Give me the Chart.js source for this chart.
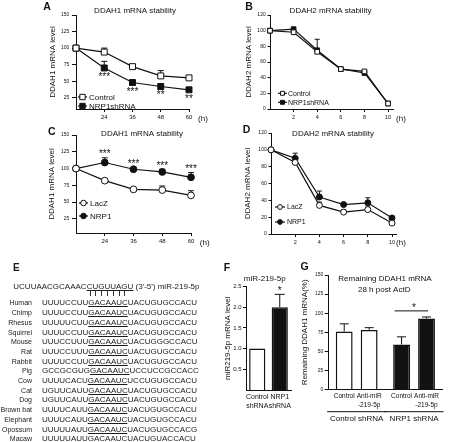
<!DOCTYPE html>
<html>
<head>
<meta charset="utf-8">
<script src="https://cdn.jsdelivr.net/npm/chart.js@4.4.1/dist/chart.umd.min.js"></script>
<style>
  html, body { margin: 0; padding: 0; background: #fff; }
  #fig { position: relative; width: 455px; height: 442px; overflow: hidden;
         font-family: 'Liberation Sans', Arial, sans-serif; color: #111; }
  #fig canvas { position: absolute; }
  #panelE { position: absolute; left: 0; top: 0; width: 220px; height: 442px; color: #1a1a1a;
            filter: grayscale(100%); will-change: transform; }
  .row { position: absolute; height: 9.7px; line-height: 9.7px; white-space: nowrap; }
  .sp { font-size: 7px; text-align: right; width: 32px; left: 0; }
  .seq { font-size: 8px; left: 42px; }
  .u { text-decoration: underline; text-decoration-thickness: 1px; text-underline-offset: 1px; }
  .pairs span { position: relative; color: transparent; }
  .pairs span.b::after { content: ''; position: absolute; left: 50%; top: 8px; width: 1px; height: 6px; background: #333; }
  .letter { position: absolute; font-weight: bold; font-size: 10px; line-height: 10px; }
</style>
</head>
<body>
<div id="fig">
  <canvas id="cA" width="225" height="125" style="left:0;top:0"></canvas>
  <canvas id="cB" width="230" height="125" style="left:225px;top:0"></canvas>
  <canvas id="cC" width="225" height="125" style="left:0;top:125px"></canvas>
  <canvas id="cD" width="230" height="125" style="left:225px;top:125px"></canvas>
  <canvas id="cF" width="80" height="187" style="left:220px;top:255px"></canvas>
  <canvas id="cG" width="155" height="187" style="left:300px;top:255px"></canvas>
  <div id="panelE"></div>
</div>
<script>
// ---- A / C : DDAH1 decay, 0-60 h ----
const hoursLong = ['0', '24', '36', '48', '60'];
const ddah1Control = [100, 94, 72, 58, 55];
const ddah1ControlErr = [null, 100, null, 66, null];
const ddah1Nrp1sh = [100, 70, 48, 42, 37];
const ddah1Nrp1shErr = [null, 80, null, null, null];
const ddah1Nrp1shStars = ['', '***', '***', '**', '**'];

const ddah1LacZ = [100, 82, 69, 68, 60];
const ddah1LacZErr = [null, null, null, 74, 67];
const ddah1Nrp1 = [100, 109, 99, 95, 87];
const ddah1Nrp1Err = [null, 116, 101, 99, 94];
const ddah1Nrp1Stars = ['', '***', '***', '***', '***'];

// ---- B / D : DDAH2 decay, 0-10 h ----
const hoursShort = [0, 2, 4, 6, 8, 10];
const ddah2Control = [100, 98, 73, 51, 48, 7];
const ddah2Nrp1sh = [100, 102, 75, 51, 46, 7];
const ddah2Nrp1shErr = [null, null, 89, null, null, null];
const ddah2LacZ = [100, 85, 34, 26, 29, 13];
const ddah2LacZErr = [null, null, 38, 29, 32, null];
const ddah2Nrp1 = [100, 90, 44, 35, 37, 19];
const ddah2Nrp1Err = [null, 96, 51, null, 43, 21];

// ---- F : miR-219-5p level ----
const mirGroups = [['Control', 'shRNA'], ['NRP1', 'shRNA']];
const mirLevel = [1.0, 2.0];
const mirErr = [null, 2.31];
const mirStars = ['', '*'];

// ---- G : remaining DDAH1 mRNA 28 h post ActD ----
const remainGroups = ['Control shRNA', 'NRP1 shRNA'];
const remainControl = [76, 59];
const remainControlErr = [86, 69];
const remainAnti = [78, 93];
const remainAntiErr = [81, 95];
const remainSig = { group: 1, value: 103, text: '*' };

// ---- tick values ----
const ticksDdah1 = [25, 50, 75, 100, 125, 150];
const ticksDdah2 = [0, 20, 40, 60, 80, 100, 120];
const ticksHours = [2, 4, 6, 8, 10];
const ticksMir = [0.5, 1.0, 1.5, 2.0, 2.5];
const ticksRemain = [0, 25, 50, 75, 100, 125, 150];

// ---- E : seed alignment ----
const mirSeq = ['UCUUAACGCAAAC', 'CUGUUAGU', " (3'-5') miR-219-5p"];
const species = ['Human', 'Chimp', 'Rhesus', 'Squirrel', 'Mouse', 'Rat', 'Rabbit', 'Pig',
                 'Cow', 'Cat', 'Dog', 'Brown bat', 'Elephant', 'Opossum', 'Macaw'];
const utrSeqs = [
  'UUUUCCUUGACAAUCUACUGUGCCACU', 'UUUUCCUUGACAAUCUACUGUGCCACU', 'UUUUUCUUGACAAUCUACUGUGCCACU',
  'UUUUCCUUGACAAUCUACUGUGCCACU', 'UUUCCUUUGACAAUCUACUGGGCCACU', 'UUUCCUUUGACAAUCUACUGUGCCACU',
  'UUUUCCUUGACAAUCUACUGUGCCACU', 'GCCGCGUGGACAAUCUCCUCCGCCACC', 'UUUUCACUGACAAUCUCCUGUGCCACU',
  'UGUUCAUUGACAAUCUACUGUGCCACU', 'UGUUCAUUGACAAUCUACUGUGCCACU', 'UUUUCAUUGACAAUCUACUGUGCCACU',
  'UUUUCAUUGACAAUCUACUGUGCCACU', 'UUUUUAUUGACAAUCUACUGUGCCACG', 'UUUUUAUUGACAAUCUACUGUACCACU'
];
const seedSite = 'GACAAUC';

const INK = '#111';
const FAMILY = "'Liberation Sans', Arial, sans-serif";

Chart.defaults.font.family = FAMILY;
Chart.defaults.color = INK;
Chart.defaults.animation = false;
Chart.defaults.responsive = false;
Chart.defaults.plugins.legend.display = false;
Chart.defaults.plugins.tooltip.enabled = false;

function drawMarker(ctx, style, x, y, r, fill) {
    ctx.beginPath();
    if (style === 'rect') {
        const s = r * Math.SQRT1_2;
        ctx.rect(x - s, y - s, 2 * s, 2 * s);
    } else {
        ctx.arc(x, y, r, 0, Math.PI * 2);
    }
    ctx.fillStyle = fill;
    ctx.fill();
    ctx.lineWidth = 1;
    ctx.strokeStyle = INK;
    ctx.stroke();
}

function drawErrors(chart, o) {
    const ctx = chart.ctx, ys = chart.scales.y;
    chart.data.datasets.forEach((ds, i) => {
        if (!ds.errors) return;
        const meta = chart.getDatasetMeta(i);
        ds.errors.forEach((e, j) => {
            if (e == null) return;
            const p = meta.data[j];
            const top = ys.getPixelForValue(e);
            ctx.save();
            ctx.strokeStyle = INK;
            ctx.lineWidth = o.width || 1;
            ctx.beginPath();
            ctx.moveTo(p.x, p.y);
            ctx.lineTo(p.x, top);
            ctx.moveTo(p.x - o.cap, top);
            ctx.lineTo(p.x + o.cap, top);
            ctx.stroke();
            ctx.restore();
        });
    });
}

function drawStars(chart, o) {
    const ctx = chart.ctx, ys = chart.scales.y;
    const size = o.starSize || 10, gap = o.starGap || 6.3;
    chart.data.datasets.forEach((ds, i) => {
        if (!ds.stars) return;
        const meta = chart.getDatasetMeta(i);
        ds.stars.forEach((s, j) => {
            if (!s) return;
            const p = meta.data[j];
            let cy;
            if (ds.starSide === 'below') {
                cy = p.y + gap;
            } else {
                const e = ds.errors && ds.errors[j] != null ? ys.getPixelForValue(ds.errors[j]) : p.y;
                cy = Math.min(p.y, e) - gap;
            }
            ctx.save();
            ctx.fillStyle = INK;
            ctx.font = size + 'px ' + FAMILY;
            ctx.textAlign = 'center';
            ctx.textBaseline = 'alphabetic';
            ctx.fillText(s, p.x, cy + size * 0.57);
            ctx.restore();
        });
    });
}

const errorBars = {
    id: 'errorBars',
    beforeDatasetsDraw(chart, args, o) { if (o.cap && o.behind) drawErrors(chart, o); },
    afterDatasetsDraw(chart, args, o) {
        if (!o.cap) return;
        if (!o.behind) drawErrors(chart, o);
        drawStars(chart, o);
    }
};

const lineLegend = {
    id: 'lineLegend',
    afterDraw(chart, args, o) {
        if (!o.rows) return;
        const ctx = chart.ctx;
        chart.data.datasets.forEach((ds, i) => {
            const y = o.rows[i];
            ctx.save();
            ctx.strokeStyle = INK;
            ctx.lineWidth = 1.2;
            ctx.beginPath();
            ctx.moveTo(o.x0, y);
            ctx.lineTo(o.x1, y);
            ctx.stroke();
            drawMarker(ctx, ds.pointStyle, (o.x0 + o.x1) / 2, y, o.radius, ds.pointBackgroundColor);
            ctx.fillStyle = INK;
            ctx.font = o.size + 'px ' + FAMILY;
            ctx.textAlign = 'left';
            ctx.textBaseline = 'middle';
            ctx.fillText(ds.label, o.tx, y + 0.5);
            ctx.restore();
        });
    }
};

const panelText = {
    id: 'panelText',
    afterDraw(chart, args, o) {
        if (!o.items) return;
        const ctx = chart.ctx;
        o.items.forEach(it => {
            ctx.save();
            ctx.fillStyle = INK;
            ctx.font = (it.bold ? 'bold ' : '') + it.size + 'px ' + FAMILY;
            ctx.textAlign = it.align || 'center';
            ctx.textBaseline = 'middle';
            ctx.fillText(it.t, it.x, it.y);
            ctx.restore();
        });
    }
};

// sub-labels under each bar, group underlines and significance bar (panel G)
const barGroups = {
    id: 'barGroups',
    afterDraw(chart, args, o) {
        if (!o.rows) return;
        const ctx = chart.ctx, xs = chart.scales.x, ys = chart.scales.y;
        ctx.save();
        ctx.fillStyle = INK;
        ctx.strokeStyle = INK;
        ctx.lineWidth = 1;
        ctx.font = o.size + 'px ' + FAMILY;
        ctx.textAlign = 'center';
        ctx.textBaseline = 'middle';
        chart.data.datasets.forEach((ds, i) => {
            chart.getDatasetMeta(i).data.forEach(bar => {
                ds.treat.forEach((line, k) => ctx.fillText(line, bar.x, o.rows[k]));
            });
        });
        chart.data.labels.forEach((l, j) => {
            const cx = xs.getPixelForValue(j);
            ctx.beginPath();
            ctx.moveTo(cx - o.half, o.lineY);
            ctx.lineTo(cx + o.half, o.lineY);
            ctx.stroke();
        });
        const sig = o.sig;
        const b0 = chart.getDatasetMeta(0).data[sig.group];
        const b1 = chart.getDatasetMeta(1).data[sig.group];
        const sy = ys.getPixelForValue(sig.value);
        ctx.beginPath();
        ctx.moveTo(b0.x - 7, sy);
        ctx.lineTo(b1.x + 1.5, sy);
        ctx.stroke();
        ctx.font = '10px ' + FAMILY;
        ctx.textBaseline = 'alphabetic';
        ctx.fillText(sig.text, (b0.x + b1.x) / 2, sy - 5.4 + 5.7);
        ctx.restore();
    }
};

Chart.register(errorBars, lineLegend, panelText, barGroups);

function yAxis(min, max, ticks, title, width, t) {
    return {
        min: min,
        max: max,
        afterBuildTicks: s => { s.ticks = ticks.map(v => ({ value: v })); },
        afterFit: s => { s.width = width; },
        title: { display: true, text: title, padding: 0, font: { size: 8 }, color: INK },
        ticks: { font: { size: t.size }, padding: t.pad, color: INK, callback: t.fmt || (v => v) },
        grid: { drawOnChartArea: false, tickLength: t.len, color: INK },
        border: { color: INK, width: 1 }
    };
}

function xCategoryHours(height) {
    return {
        afterFit: s => { s.height = height; },
        ticks: {
            font: { size: 6 }, padding: 2, autoSkip: false, maxRotation: 0, color: INK,
            callback: function (v, i) { return i === 0 ? '' : this.getLabelForValue(v); }
        },
        grid: { drawOnChartArea: false, tickLength: 3, color: c => c.index === 0 ? 'rgba(0,0,0,0)' : INK },
        border: { color: INK, width: 1 }
    };
}

function xLinearHours(max, height) {
    return {
        type: 'linear',
        min: 0,
        max: max,
        afterBuildTicks: s => { s.ticks = ticksHours.map(v => ({ value: v })); },
        afterFit: s => { s.height = height; },
        ticks: { font: { size: 5.5 }, padding: 2, color: INK },
        grid: { drawOnChartArea: false, tickLength: 3, color: INK },
        border: { color: INK, width: 1 }
    };
}

function series(label, values, errors, style, filled, radius, xs) {
    return {
        label: label,
        data: xs ? values.map((v, i) => ({ x: xs[i], y: v })) : values,
        errors: errors,
        borderColor: INK,
        borderWidth: 1.2,
        pointStyle: style,
        pointRadius: radius,
        pointBorderWidth: 1,
        pointBackgroundColor: filled ? INK : '#fff',
        pointBorderColor: INK,
        clip: false
    };
}

// ---- A ----
const sA = series('NRP1shRNA', ddah1Nrp1sh, ddah1Nrp1shErr, 'rect', true, 4.2);
sA.stars = ddah1Nrp1shStars;
sA.starSide = 'below';
new Chart('cA', {
    type: 'line',
    data: { labels: hoursLong, datasets: [series('Control', ddah1Control, ddah1ControlErr, 'rect', false, 4.2), sA] },
    options: {
        devicePixelRatio: 1,
        layout: { padding: { left: 48.2, top: 15, right: 36, bottom: 0 } },
        scales: {
            x: xCategoryHours(16),
            y: yAxis(8, 150, ticksDdah1, 'DDAH1 mRNA level', 27.8, { size: 5, pad: 2.7, len: 4 })
        },
        plugins: {
            errorBars: { cap: 3, behind: true },
            lineLegend: { x0: 78, x1: 87, tx: 89, rows: [97, 106], radius: 3.8, size: 8 },
            panelText: { items: [
                { t: 'A', x: 47, y: 7, size: 10.5, bold: true },
                { t: 'DDAH1 mRNA stability', x: 135, y: 10.7, size: 8 },
                { t: '(h)', x: 203, y: 118.3, size: 8 }
            ] }
        }
    }
});

// ---- B ----
new Chart('cB', {
    type: 'line',
    data: { datasets: [
        series('Control', ddah2Control, null, 'rect', false, 3.3, hoursShort),
        series('NRP1shRNA', ddah2Nrp1sh, ddah2Nrp1shErr, 'rect', true, 3.3, hoursShort)
    ] },
    options: {
        devicePixelRatio: 1,
        layout: { padding: { left: 18.5, top: 15, right: 62, bottom: 0 } },
        scales: {
            x: xLinearHours(10.42, 16),
            y: yAxis(0, 120, ticksDdah2, 'DDAH2 mRNA level', 26.5, { size: 5, pad: 1.8, len: 2.5 })
        },
        plugins: {
            errorBars: { cap: 2.5, behind: true },
            lineLegend: { x0: 53, x1: 62, tx: 63, rows: [93.3, 102.3], radius: 2.8, size: 7 },
            panelText: { items: [
                { t: 'B', x: 24, y: 7.5, size: 10.5, bold: true },
                { t: 'DDAH2 mRNA stability', x: 105.5, y: 10.7, size: 8 },
                { t: '(h)', x: 176, y: 118.3, size: 8 }
            ] }
        }
    }
});

// ---- C ----
const sC = series('NRP1', ddah1Nrp1, ddah1Nrp1Err, 'circle', true, 3.4);
sC.stars = ddah1Nrp1Stars;
sC.starSide = 'above';
new Chart('cC', {
    type: 'line',
    data: { labels: hoursLong, datasets: [series('LacZ', ddah1LacZ, ddah1LacZErr, 'circle', false, 3.4), sC] },
    options: {
        devicePixelRatio: 1,
        layout: { padding: { left: 47.2, top: 10, right: 34, bottom: 0 } },
        scales: {
            x: xCategoryHours(17),
            y: yAxis(4, 150, ticksDdah1, 'DDAH1 mRNA level', 28.8, { size: 5, pad: 2.7, len: 4 })
        },
        plugins: {
            errorBars: { cap: 3, behind: true },
            lineLegend: { x0: 79, x1: 88, tx: 90, rows: [78, 91], radius: 2.8, size: 8 },
            panelText: { items: [
                { t: 'C', x: 51.7, y: 7.3, size: 10.5, bold: true },
                { t: 'DDAH1 mRNA stability', x: 142, y: 8.3, size: 8 },
                { t: '(h)', x: 204.7, y: 117.3, size: 8 }
            ] }
        }
    }
});

// ---- D ----
new Chart('cD', {
    type: 'line',
    data: { datasets: [
        series('LacZ', ddah2LacZ, ddah2LacZErr, 'circle', false, 3, hoursShort),
        series('NRP1', ddah2Nrp1, ddah2Nrp1Err, 'circle', true, 3, hoursShort)
    ] },
    options: {
        devicePixelRatio: 1,
        layout: { padding: { left: 18.2, top: 8, right: 59, bottom: 0 } },
        scales: {
            x: xLinearHours(10.33, 16),
            y: yAxis(0, 120, ticksDdah2, 'DDAH2 mRNA level', 27.8, { size: 5, pad: 1.8, len: 2.5 })
        },
        plugins: {
            errorBars: { cap: 2.5, behind: true },
            lineLegend: { x0: 50, x1: 60, tx: 62, rows: [82, 97], radius: 2.4, size: 7 },
            panelText: { items: [
                { t: 'D', x: 21.5, y: 5, size: 10.5, bold: true },
                { t: 'DDAH2 mRNA stability', x: 108, y: 8.3, size: 8 },
                { t: '(h)', x: 176, y: 117.3, size: 8 }
            ] }
        }
    }
});

// ---- F ----
new Chart('cF', {
    type: 'bar',
    data: { labels: mirGroups, datasets: [{
        data: mirLevel, errors: mirErr, stars: mirStars,
        backgroundColor: ['#fff', INK], borderColor: INK, borderWidth: 1.5,
        barPercentage: 0.72, categoryPercentage: 1
    }] },
    options: {
        devicePixelRatio: 1,
        layout: { padding: { left: 3.2, top: 31.5, right: 9, bottom: 0 } },
        scales: {
            x: {
                afterFit: s => { s.height = 52; },
                ticks: { font: { size: 7 }, padding: -5, autoSkip: false, maxRotation: 0, minRotation: 0, color: INK },
                grid: { display: false },
                border: { color: INK, width: 1 }
            },
            y: yAxis(0, 2.5, ticksMir, 'miR219-5p mRNA level', 22.8,
                     { size: 6, pad: 1.3, len: 3, fmt: v => v.toFixed(1) })
        },
        plugins: {
            errorBars: { cap: 5, behind: false },
            panelText: { items: [
                { t: 'F', x: 7, y: 13.3, size: 10.5, bold: true },
                { t: 'miR-219-5p', x: 44.7, y: 24, size: 8 }
            ] }
        }
    }
});

// ---- G ----
new Chart('cG', {
    type: 'bar',
    data: { labels: remainGroups, datasets: [
        { label: 'Control', treat: ['Control'], data: remainControl, errors: remainControlErr,
          backgroundColor: ['#fff', INK], borderColor: INK, borderWidth: 1.5,
          barPercentage: 0.675, categoryPercentage: 0.87 },
        { label: 'Anti-miR-219-5p', treat: ['Anti-miR', '-219-5p'], data: remainAnti, errors: remainAntiErr,
          backgroundColor: ['#fff', INK], borderColor: INK, borderWidth: 1.5,
          barPercentage: 0.675, categoryPercentage: 0.87 }
    ] },
    options: {
        devicePixelRatio: 1,
        layout: { padding: { left: 0.2, top: 20, right: 2, bottom: 0 } },
        scales: {
            x: {
                afterFit: s => { s.height = 52.5; },
                ticks: { font: { size: 8 }, padding: 16, autoSkip: false, maxRotation: 0, minRotation: 0, color: INK },
                grid: { display: false },
                border: { color: INK, width: 1 }
            },
            y: yAxis(0, 150, ticksRemain, 'Remaining DDAH1 mRNA(%)', 27.8, { size: 5, pad: 1.4, len: 3.3 })
        },
        plugins: {
            errorBars: { cap: 4.5, behind: false },
            barGroups: { rows: [141, 150], size: 6.5, lineY: 156.7, half: 29.5, sig: remainSig },
            panelText: { items: [
                { t: 'G', x: 4.5, y: 12.5, size: 10.5, bold: true },
                { t: 'Remaining DDAH1 mRNA', x: 85, y: 23.3, size: 8 },
                { t: '28 h post ActD', x: 84.2, y: 34.3, size: 8 }
            ] }
        }
    }
});

// ---- E : alignment text ----
(function buildE() {
    const box = document.getElementById('panelE');
    const rowH = 9.7;
    let html = '<div class="letter" style="left:13px;top:263.3px">E</div>';
    const topY = 286.5 - rowH / 2;
    html += '<div class="row seq" style="left:13.3px;top:' + topY + 'px">' + mirSeq[0] +
            '<span class="u">' + mirSeq[1] + '</span>' + mirSeq[2] + '</div>';
    let pairs = '<span>' + mirSeq[0] + '</span>';
    for (let k = 0; k < mirSeq[1].length; k++) {
        pairs += '<span class="' + (k < seedSite.length ? 'b' : '') + '">' + mirSeq[1][k] + '</span>';
    }
    html += '<div class="row seq pairs" style="left:13.3px;top:' + topY + 'px">' + pairs + '</div>';
    species.forEach((name, i) => {
        const y = 303.3 + i * rowH - rowH / 2;
        const s = utrSeqs[i];
        const k = s.indexOf(seedSite);
        html += '<div class="row sp" style="top:' + y + 'px">' + name + '</div>';
        html += '<div class="row seq" style="top:' + y + 'px">' + s.slice(0, k) +
                '<span class="u">' + s.slice(k, k + seedSite.length) + '</span>' +
                s.slice(k + seedSite.length) + '</div>';
    });
    box.innerHTML = html;
})();
</script>
</body>
</html>
